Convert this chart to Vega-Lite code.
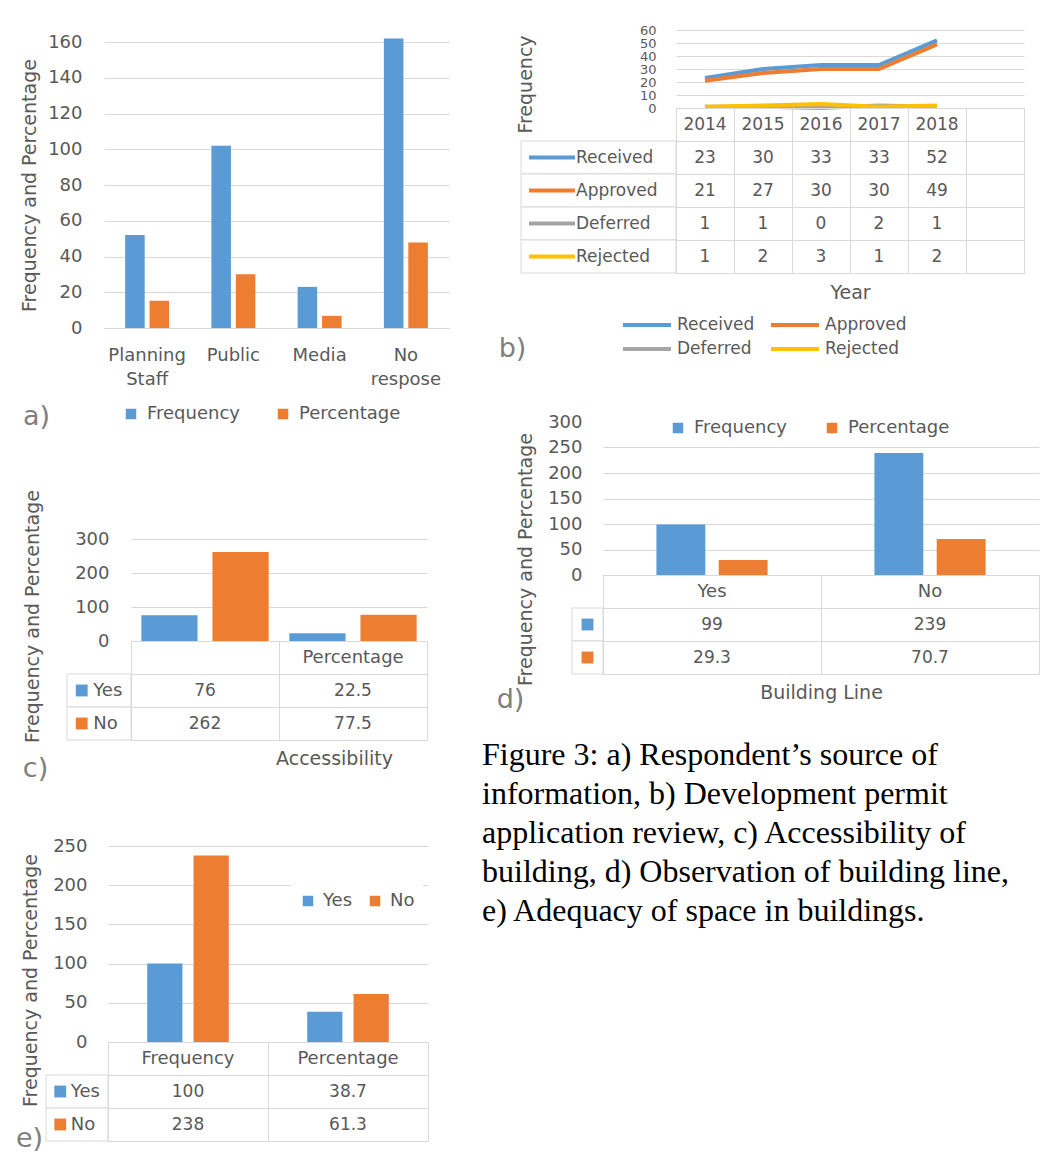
{
 "$schema": "https://vega.github.io/schema/vega-lite/v6.json",
 "background": "white",
 "padding": {"left": 15, "top": 24, "right": 0, "bottom": 0},
 "config": {
  "font": "DejaVu Sans",
  "view": {"stroke": null},
  "axis": {"labelColor": "#595959", "titleColor": "#595959", "titleFontWeight": "normal", "labelFontSize": 18, "titleFontSize": 19, "gridColor": "#d9d9d9", "domainColor": "#d9d9d9", "ticks": false, "labelFont": "DejaVu Sans", "titleFont": "DejaVu Sans"},
  "legend": {"labelColor": "#595959", "labelFontSize": 17, "labelFont": "DejaVu Sans"},
  "text": {"font": "DejaVu Sans", "fontSize": 17, "color": "#595959"}
 },
 "datasets": {
  "source": [
   {"source": "Planning Staff", "measure": "Frequency", "value": 52},
   {"source": "Planning Staff", "measure": "Percentage", "value": 15.3},
   {"source": "Public", "measure": "Frequency", "value": 102},
   {"source": "Public", "measure": "Percentage", "value": 30.1},
   {"source": "Media", "measure": "Frequency", "value": 23},
   {"source": "Media", "measure": "Percentage", "value": 6.8},
   {"source": "No respose", "measure": "Frequency", "value": 162},
   {"source": "No respose", "measure": "Percentage", "value": 47.8}
  ],
  "permits": [
   {"series": "Received", "year": "2014", "value": 23},
   {"series": "Received", "year": "2015", "value": 30},
   {"series": "Received", "year": "2016", "value": 33},
   {"series": "Received", "year": "2017", "value": 33},
   {"series": "Received", "year": "2018", "value": 52},
   {"series": "Approved", "year": "2014", "value": 21},
   {"series": "Approved", "year": "2015", "value": 27},
   {"series": "Approved", "year": "2016", "value": 30},
   {"series": "Approved", "year": "2017", "value": 30},
   {"series": "Approved", "year": "2018", "value": 49},
   {"series": "Deferred", "year": "2014", "value": 1},
   {"series": "Deferred", "year": "2015", "value": 1},
   {"series": "Deferred", "year": "2016", "value": 0},
   {"series": "Deferred", "year": "2017", "value": 2},
   {"series": "Deferred", "year": "2018", "value": 1},
   {"series": "Rejected", "year": "2014", "value": 1},
   {"series": "Rejected", "year": "2015", "value": 2},
   {"series": "Rejected", "year": "2016", "value": 3},
   {"series": "Rejected", "year": "2017", "value": 1},
   {"series": "Rejected", "year": "2018", "value": 2}
  ],
  "access": [
   {"measure": " ", "answer": "Yes", "value": 76},
   {"measure": " ", "answer": "No", "value": 262},
   {"measure": "Percentage", "answer": "Yes", "value": 22.5},
   {"measure": "Percentage", "answer": "No", "value": 77.5}
  ],
  "bline": [
   {"answer": "Yes", "measure": "Frequency", "value": 99},
   {"answer": "Yes", "measure": "Percentage", "value": 29.3},
   {"answer": "No", "measure": "Frequency", "value": 239},
   {"answer": "No", "measure": "Percentage", "value": 70.7}
  ],
  "space": [
   {"measure": "Frequency", "answer": "Yes", "value": 100},
   {"measure": "Frequency", "answer": "No", "value": 238},
   {"measure": "Percentage", "answer": "Yes", "value": 38.7},
   {"measure": "Percentage", "answer": "No", "value": 61.3}
  ]
 },
 "spacing": 33,
 "resolve": {"scale": {"color": "independent", "xOffset": "independent"}, "legend": {"color": "independent"}},
 "hconcat": [
  {
   "spacing": 60,
   "resolve": {"scale": {"color": "independent", "xOffset": "independent"}, "legend": {"color": "independent"}},
   "vconcat": [
    {
     "columns": 2, "align": "each", "bounds": "flush", "spacing": 0,
     "resolve": {"scale": {"color": "independent", "xOffset": "independent"}, "legend": {"color": "independent"}},
     "concat": [
      {"width": 58, "height": 12, "data": {"values": []}, "mark": "point", "encoding": {}},
      {"width": 345, "height": 12, "data": {"values": []}, "mark": "point", "encoding": {}},
      {"width": 58, "height": 286, "data": {"values": []}, "mark": "point", "encoding": {}},
      {
       "width": 345, "height": 286,
       "data": {"name": "source"},
       "mark": {"type": "bar"},
       "encoding": {
        "x": {"field": "source", "type": "nominal", "scale": {"domain": ["Planning Staff", "Public", "Media", "No respose"], "paddingInner": 0.49, "paddingOuter": 0.245},
              "axis": {"labelExpr": "split(datum.label, ' ')", "labelAngle": 0, "labelPadding": 18, "labelLineHeight": 24, "domain": true, "title": "a)", "titleX": -68, "titleY": 88, "titleFontSize": 27, "titleColor": "#7f7f7f", "titleBaseline": "middle", "titleAlign": "center"}},
        "xOffset": {"field": "measure", "type": "nominal", "scale": {"domain": ["Frequency", "Percentage"], "paddingInner": 0.2}},
        "y": {"field": "value", "type": "quantitative", "scale": {"domain": [0, 160]},
              "axis": {"values": [0, 20, 40, 60, 80, 100, 120, 140, 160], "title": "Frequency and Percentage", "labelPadding": 22, "titlePadding": 8, "domain": false, "grid": true}},
        "color": {"field": "measure", "type": "nominal", "scale": {"domain": ["Frequency", "Percentage"], "range": ["#5b9bd5", "#ed7d31"]},
                  "legend": {"orient": "none", "legendX": 18, "legendY": 363, "direction": "horizontal", "title": null, "symbolType": "square", "symbolSize": 110, "labelFontSize": 18, "columnPadding": 34, "labelOffset": 7}}
       }
      }
     ]
    },
    {
     "spacing": 56,
     "resolve": {"scale": {"color": "independent", "xOffset": "independent"}, "legend": {"color": "independent"}},
     "vconcat": [
      {
       "columns": 3, "align": "each", "bounds": "flush", "spacing": 0,
       "resolve": {"scale": {"color": "independent", "xOffset": "independent"}, "legend": {"color": "independent"}},
       "concat": [
        {"width": 21, "height": 102, "data": {"values": []}, "mark": "point", "encoding": {}},
        {"width": 64, "height": 102, "data": {"values": []}, "mark": "point", "encoding": {}},
        {
         "width": 296, "height": 102,
         "data": {"name": "access"},
         "mark": {"type": "bar"},
         "encoding": {
          "x": {"field": "measure", "type": "nominal", "scale": {"domain": [" ", "Percentage"], "paddingInner": 0.14, "paddingOuter": 0.07}, "axis": null},
          "xOffset": {"field": "answer", "type": "nominal", "scale": {"domain": ["Yes", "No"], "paddingInner": 0.21}},
          "y": {"field": "value", "type": "quantitative", "scale": {"domain": [0, 300]},
                "axis": {"values": [0, 100, 200, 300], "title": "Frequency and Percentage", "titleY": 77, "titlePadding": 32, "labelPadding": 22, "domain": false, "grid": true}},
          "color": {"field": "answer", "type": "nominal", "scale": {"domain": ["Yes", "No"], "range": ["#5b9bd5", "#ed7d31"]}, "legend": null}
         }
        },
        {"width": 21, "height": 99, "data": {"values": []}, "mark": "point", "encoding": {}},
        {
         "width": 64, "height": 99,
         "data": {"name": "access"},
         "transform": [{"aggregate": [], "groupby": ["answer"]}],
         "encoding": {
          "y": {"field": "answer", "type": "nominal", "scale": {"domain": ["h", "Yes", "No"], "paddingInner": 0, "paddingOuter": 0},
                "axis": {"orient": "left", "labels": false, "ticks": false, "domain": false, "grid": false, "title": "c)", "titleAngle": 0, "titleX": -32, "titleY": 127, "titleBaseline": "middle", "titleAlign": "center", "titleFontSize": 27, "titleColor": "#7f7f7f"}}
         },
         "layer": [
          {"mark": {"type": "rect", "fill": "white", "stroke": "#d9d9d9", "strokeWidth": 1},
           "encoding": {"x": {"datum": "c", "type": "nominal", "scale": {"type": "band", "domain": ["c"], "paddingInner": 0, "paddingOuter": 0}, "axis": null}}},
          {"mark": {"type": "point", "shape": "square", "filled": true, "size": 140, "opacity": 1},
           "encoding": {"x": {"datum": "c", "type": "nominal", "bandPosition": 0.23, "axis": null},
                        "color": {"field": "answer", "type": "nominal", "scale": {"domain": ["Yes", "No"], "range": ["#5b9bd5", "#ed7d31"]}, "legend": null}}},
          {"mark": {"type": "text", "align": "left", "baseline": "middle", "fontSize": 18},
           "encoding": {"x": {"datum": "c", "type": "nominal", "bandPosition": 0.41, "axis": null}, "text": {"field": "answer"}}}
         ]
        },
        {
         "width": 296, "height": 99,
         "view": {"stroke": "#d9d9d9"},
         "data": {"name": "access"},
         "layer": [
          {"mark": {"type": "text", "baseline": "middle"},
           "encoding": {
            "x": {"field": "measure", "type": "nominal", "scale": {"type": "band", "domain": [" ", "Percentage"], "paddingInner": 0, "paddingOuter": 0},
                  "axis": {"orient": "bottom", "labels": false, "ticks": false, "domain": false, "grid": true, "tickBand": "extent", "title": "Accessibility", "titleX": 203, "titleAlign": "center", "titlePadding": 9}},
            "y": {"field": "answer", "type": "nominal", "scale": {"domain": ["h", "Yes", "No"], "paddingInner": 0, "paddingOuter": 0},
                  "axis": {"labels": false, "ticks": false, "domain": false, "grid": true, "tickBand": "extent", "title": null}},
            "text": {"field": "value", "type": "quantitative"}
           }},
          {"transform": [{"aggregate": [], "groupby": ["measure"]}],
           "mark": {"type": "text", "baseline": "middle", "fontSize": 18},
           "encoding": {
            "x": {"field": "measure", "type": "nominal",
                  "axis": {"orient": "bottom", "labels": false, "ticks": false, "domain": false, "grid": true, "tickBand": "extent", "title": "Accessibility", "titleX": 203, "titleAlign": "center", "titlePadding": 9}},
            "y": {"datum": "h", "type": "nominal",
                  "axis": {"labels": false, "ticks": false, "domain": false, "grid": true, "tickBand": "extent", "title": null}},
            "text": {"field": "measure"}
           }}
         ]
        }
       ]
      },
      {
       "columns": 2, "align": "each", "bounds": "flush", "spacing": 0,
       "resolve": {"scale": {"color": "independent", "xOffset": "independent"}, "legend": {"color": "independent"}},
       "concat": [
        {"width": 62, "height": 196, "data": {"values": []}, "mark": "point", "encoding": {}},
        {
         "width": 320, "height": 196,
         "data": {"name": "space"},
         "mark": {"type": "bar"},
         "encoding": {
          "x": {"field": "measure", "type": "nominal", "scale": {"domain": ["Frequency", "Percentage"], "paddingInner": 0.49, "paddingOuter": 0.245}, "axis": null},
          "xOffset": {"field": "answer", "type": "nominal", "scale": {"domain": ["Yes", "No"], "paddingInner": 0.24}},
          "y": {"field": "value", "type": "quantitative", "scale": {"domain": [0, 250]},
                "axis": {"values": [0, 50, 100, 150, 200, 250], "title": "Frequency and Percentage", "titleY": 134, "titlePadding": 12, "labelPadding": 21, "domain": false, "grid": true}},
          "color": {"field": "answer", "type": "nominal", "scale": {"domain": ["Yes", "No"], "range": ["#5b9bd5", "#ed7d31"]},
                    "legend": {"orient": "none", "legendX": 183, "legendY": 38, "direction": "horizontal", "title": null, "fillColor": "white", "padding": 8, "symbolType": "square", "symbolSize": 110, "labelFontSize": 18, "labelOffset": 6, "columnPadding": 13}}
         }
        },
        {
         "width": 62, "height": 99,
         "data": {"name": "space"},
         "transform": [{"aggregate": [], "groupby": ["answer"]}],
         "encoding": {
          "y": {"field": "answer", "type": "nominal", "scale": {"domain": ["h", "Yes", "No"], "paddingInner": 0, "paddingOuter": 0},
                "axis": {"orient": "left", "labels": false, "ticks": false, "domain": false, "grid": false, "title": "e)", "titleAngle": 0, "titleX": -17, "titleY": 110, "titleBaseline": "bottom", "titleAlign": "center", "titleFontSize": 27, "titleColor": "#7f7f7f"}}
         },
         "layer": [
          {"mark": {"type": "rect", "fill": "white", "stroke": "#d9d9d9", "strokeWidth": 1},
           "encoding": {"x": {"datum": "c", "type": "nominal", "scale": {"type": "band", "domain": ["c"], "paddingInner": 0, "paddingOuter": 0}, "axis": null}}},
          {"mark": {"type": "point", "shape": "square", "filled": true, "size": 140, "opacity": 1},
           "encoding": {"x": {"datum": "c", "type": "nominal", "bandPosition": 0.23, "axis": null},
                        "color": {"field": "answer", "type": "nominal", "scale": {"domain": ["Yes", "No"], "range": ["#5b9bd5", "#ed7d31"]}, "legend": null}}},
          {"mark": {"type": "text", "align": "left", "baseline": "middle", "fontSize": 18},
           "encoding": {"x": {"datum": "c", "type": "nominal", "bandPosition": 0.4, "axis": null}, "text": {"field": "answer"}}}
         ]
        },
        {
         "width": 320, "height": 99,
         "view": {"stroke": "#d9d9d9"},
         "data": {"name": "space"},
         "layer": [
          {"mark": {"type": "text", "baseline": "middle"},
           "encoding": {
            "x": {"field": "measure", "type": "nominal", "scale": {"type": "band", "domain": ["Frequency", "Percentage"], "paddingInner": 0, "paddingOuter": 0},
                  "axis": {"orient": "bottom", "labels": false, "ticks": false, "domain": false, "grid": true, "tickBand": "extent", "title": null}},
            "y": {"field": "answer", "type": "nominal", "scale": {"domain": ["h", "Yes", "No"], "paddingInner": 0, "paddingOuter": 0},
                  "axis": {"labels": false, "ticks": false, "domain": false, "grid": true, "tickBand": "extent", "title": null}},
            "text": {"field": "value", "type": "quantitative"}
           }},
          {"transform": [{"aggregate": [], "groupby": ["measure"]}],
           "mark": {"type": "text", "baseline": "middle", "fontSize": 18},
           "encoding": {
            "x": {"field": "measure", "type": "nominal",
                  "axis": {"orient": "bottom", "labels": false, "ticks": false, "domain": false, "grid": true, "tickBand": "extent", "title": null}},
            "y": {"datum": "h", "type": "nominal",
                  "axis": {"labels": false, "ticks": false, "domain": false, "grid": true, "tickBand": "extent", "title": null}},
            "text": {"field": "measure"}
           }}
         ]
        }
       ]
      }
     ]
    }
   ]
  },
  {
   "spacing": 52,
   "resolve": {"scale": {"color": "independent", "xOffset": "independent"}, "legend": {"color": "independent"}},
   "title": {
    "text": ["Figure 3: a) Respondent’s source of", "information, b) Development permit", "application review, c) Accessibility of", "building, d) Observation of building line,", "e) Adequacy of space in buildings."],
    "orient": "bottom", "anchor": "start", "frame": "group", "font": "Liberation Serif", "fontSize": 32, "fontWeight": "normal", "color": "black", "lineHeight": 39, "offset": 28, "dx": -39
   },
   "vconcat": [
    {
     "columns": 2, "align": "each", "bounds": "flush", "spacing": 0,
     "resolve": {"scale": {"color": "independent", "xOffset": "independent"}, "legend": {"color": "independent"}},
     "concat": [
      {"width": 155, "height": 78, "data": {"values": []}, "mark": "point", "encoding": {}},
      {
       "width": 348, "height": 78,
       "data": {"name": "permits"},
       "mark": {"type": "line", "strokeWidth": 4},
       "encoding": {
        "x": {"field": "year", "type": "ordinal", "scale": {"type": "band", "domain": ["2014", "2015", "2016", "2017", "2018", " "], "paddingInner": 0, "paddingOuter": 0}, "axis": null},
        "y": {"field": "value", "type": "quantitative", "scale": {"domain": [0, 60]},
              "axis": {"values": [0, 10, 20, 30, 40, 50, 60], "labelOverlap": false, "labelFontSize": 13, "labelPadding": 20, "domain": false, "grid": true, "title": "Frequency", "titlePadding": 104, "titleY": 54}},
        "color": {"field": "series", "type": "nominal", "sort": ["Received", "Approved", "Deferred", "Rejected"],
                  "scale": {"domain": ["Received", "Approved", "Deferred", "Rejected"], "range": ["#5b9bd5", "#ed7d31", "#a5a5a5", "#ffc000"]},
                  "legend": {"orient": "none", "legendX": -55, "legendY": 281, "columns": 2, "direction": "horizontal", "title": null, "symbolType": "M-1,0H3", "symbolSize": 576, "symbolStrokeWidth": 4, "labelOffset": 28, "columnPadding": 8, "labelFontSize": 17}}
       }
      },
      {
       "width": 155, "height": 165,
       "data": {"name": "permits"},
       "transform": [{"aggregate": [], "groupby": ["series"]}],
       "encoding": {
        "y": {"field": "series", "type": "nominal", "scale": {"domain": ["h", "Received", "Approved", "Deferred", "Rejected"], "paddingInner": 0, "paddingOuter": 0},
              "axis": {"orient": "left", "labels": false, "ticks": false, "domain": false, "grid": false, "title": "b)", "titleAngle": 0, "titleX": -9, "titleY": 240, "titleBaseline": "middle", "titleAlign": "center", "titleFontSize": 27, "titleColor": "#7f7f7f"}}
       },
       "layer": [
        {"mark": {"type": "rect", "fill": "white", "stroke": "#d9d9d9", "strokeWidth": 1},
         "encoding": {"x": {"datum": "c", "type": "nominal", "scale": {"type": "band", "domain": ["c"], "paddingInner": 0, "paddingOuter": 0}, "axis": null}}},
        {"mark": {"type": "point", "shape": "stroke", "filled": false, "size": 2116, "strokeWidth": 4, "opacity": 1},
         "encoding": {"x": {"datum": "c", "type": "nominal", "bandPosition": 0.2, "axis": null},
                      "color": {"field": "series", "type": "nominal", "scale": {"domain": ["Received", "Approved", "Deferred", "Rejected"], "range": ["#5b9bd5", "#ed7d31", "#a5a5a5", "#ffc000"]}, "legend": null}}},
        {"mark": {"type": "text", "align": "left", "baseline": "middle", "fontSize": 17},
         "encoding": {"x": {"datum": "c", "type": "nominal", "bandPosition": 0.355, "axis": null}, "text": {"field": "series"}}}
       ]
      },
      {
       "width": 348, "height": 165,
       "view": {"stroke": "#d9d9d9"},
       "data": {"name": "permits"},
       "layer": [
        {"mark": {"type": "text", "baseline": "middle"},
         "encoding": {
          "x": {"field": "year", "type": "ordinal", "scale": {"type": "band", "domain": ["2014", "2015", "2016", "2017", "2018", " "], "paddingInner": 0, "paddingOuter": 0},
                "axis": {"orient": "bottom", "labels": false, "ticks": false, "domain": false, "grid": true, "tickBand": "extent", "title": "Year", "titlePadding": 10}},
          "y": {"field": "series", "type": "nominal", "scale": {"domain": ["h", "Received", "Approved", "Deferred", "Rejected"], "paddingInner": 0, "paddingOuter": 0},
                "axis": {"labels": false, "ticks": false, "domain": false, "grid": true, "tickBand": "extent", "title": null}},
          "text": {"field": "value", "type": "quantitative"}
         }},
        {"transform": [{"aggregate": [], "groupby": ["year"]}],
         "mark": {"type": "text", "baseline": "middle"},
         "encoding": {
          "x": {"field": "year", "type": "ordinal",
                "axis": {"orient": "bottom", "labels": false, "ticks": false, "domain": false, "grid": true, "tickBand": "extent", "title": "Year", "titlePadding": 10}},
          "y": {"datum": "h", "type": "nominal",
                "axis": {"labels": false, "ticks": false, "domain": false, "grid": true, "tickBand": "extent", "title": null}},
          "text": {"field": "year"}
         }}
       ]
      }
     ]
    },
    {
     "columns": 3, "align": "each", "bounds": "flush", "spacing": 0,
     "resolve": {"scale": {"color": "independent", "xOffset": "independent"}, "legend": {"color": "independent"}},
     "concat": [
      {"width": 51, "height": 153, "data": {"values": []}, "mark": "point", "encoding": {}},
      {"width": 31, "height": 153, "data": {"values": []}, "mark": "point", "encoding": {}},
      {
       "width": 436, "height": 153,
       "data": {"name": "bline"},
       "mark": {"type": "bar"},
       "encoding": {
        "x": {"field": "answer", "type": "nominal", "scale": {"domain": ["Yes", "No"], "paddingInner": 0.49, "paddingOuter": 0.245}, "axis": null},
        "xOffset": {"field": "measure", "type": "nominal", "scale": {"domain": ["Frequency", "Percentage"], "paddingInner": 0.215}},
        "y": {"field": "value", "type": "quantitative", "scale": {"domain": [0, 300]},
              "axis": {"values": [0, 50, 100, 150, 200, 250, 300], "title": "Frequency and Percentage", "titleY": 137, "titlePadding": 12, "labelPadding": 21, "domain": false, "grid": true,
                       "gridOpacity": {"condition": {"test": "datum.value >= 300", "value": 0}, "value": 1}}},
        "color": {"field": "measure", "type": "nominal", "scale": {"domain": ["Frequency", "Percentage"], "range": ["#5b9bd5", "#ed7d31"]},
                  "legend": {"orient": "none", "legendX": 66, "legendY": -3, "direction": "horizontal", "title": null, "symbolType": "square", "symbolSize": 110, "labelFontSize": 18, "labelOffset": 7, "columnPadding": 36}}
       }
      },
      {"width": 51, "height": 99, "data": {"values": []}, "mark": "point", "encoding": {}},
      {
       "width": 31, "height": 99,
       "data": {"name": "bline"},
       "transform": [{"aggregate": [], "groupby": ["measure"]}],
       "encoding": {
        "y": {"field": "measure", "type": "nominal", "scale": {"domain": ["h", "Frequency", "Percentage"], "paddingInner": 0, "paddingOuter": 0},
              "axis": {"orient": "left", "labels": false, "ticks": false, "domain": false, "grid": false, "title": "d)", "titleAngle": 0, "titleX": -62, "titleY": 124, "titleBaseline": "middle", "titleAlign": "center", "titleFontSize": 27, "titleColor": "#7f7f7f"}}
       },
       "layer": [
        {"mark": {"type": "rect", "fill": "white", "stroke": "#d9d9d9", "strokeWidth": 1},
         "encoding": {"x": {"datum": "c", "type": "nominal", "scale": {"type": "band", "domain": ["c"], "paddingInner": 0, "paddingOuter": 0}, "axis": null}}},
        {"mark": {"type": "point", "shape": "square", "filled": true, "size": 140, "opacity": 1},
         "encoding": {"x": {"datum": "c", "type": "nominal", "bandPosition": 0.5, "axis": null},
                      "color": {"field": "measure", "type": "nominal", "scale": {"domain": ["Frequency", "Percentage"], "range": ["#5b9bd5", "#ed7d31"]}, "legend": null}}}
       ]
      },
      {
       "width": 436, "height": 99,
       "view": {"stroke": "#d9d9d9"},
       "data": {"name": "bline"},
       "layer": [
        {"mark": {"type": "text", "baseline": "middle"},
         "encoding": {
          "x": {"field": "answer", "type": "nominal", "scale": {"type": "band", "domain": ["Yes", "No"], "paddingInner": 0, "paddingOuter": 0},
                "axis": {"orient": "bottom", "labels": false, "ticks": false, "domain": false, "grid": true, "tickBand": "extent", "title": "Building Line", "titlePadding": 9}},
          "y": {"field": "measure", "type": "nominal", "scale": {"domain": ["h", "Frequency", "Percentage"], "paddingInner": 0, "paddingOuter": 0},
                "axis": {"labels": false, "ticks": false, "domain": false, "grid": true, "tickBand": "extent", "title": null}},
          "text": {"field": "value", "type": "quantitative"}
         }},
        {"transform": [{"aggregate": [], "groupby": ["answer"]}],
         "mark": {"type": "text", "baseline": "middle", "fontSize": 18},
         "encoding": {
          "x": {"field": "answer", "type": "nominal",
                "axis": {"orient": "bottom", "labels": false, "ticks": false, "domain": false, "grid": true, "tickBand": "extent", "title": "Building Line", "titlePadding": 9}},
          "y": {"datum": "h", "type": "nominal",
                "axis": {"labels": false, "ticks": false, "domain": false, "grid": true, "tickBand": "extent", "title": null}},
          "text": {"field": "answer"}
         }}
       ]
      }
     ]
    }
   ]
  }
 ]
}
